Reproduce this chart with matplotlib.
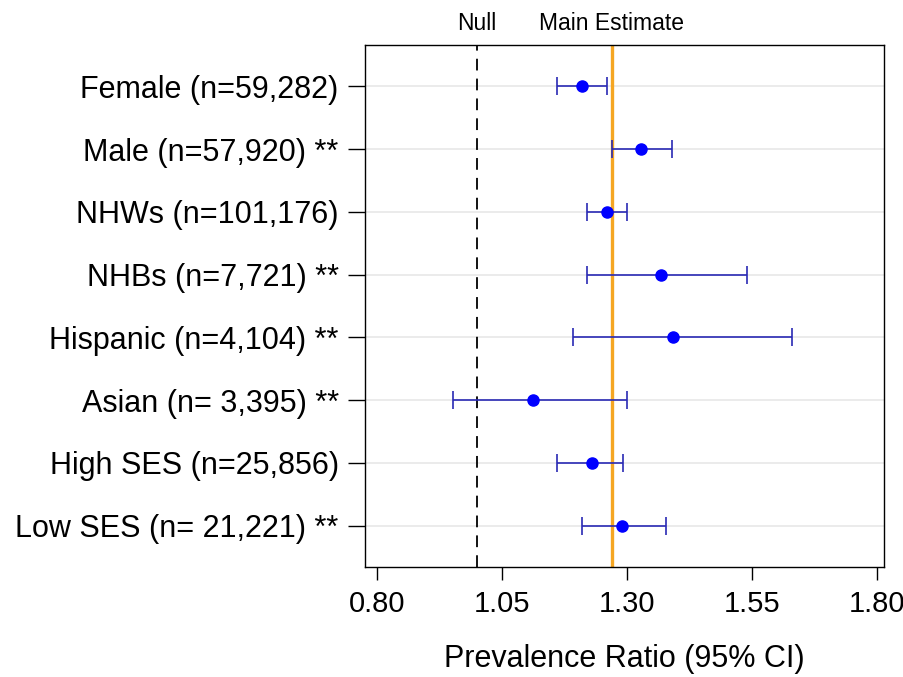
import matplotlib
matplotlib.use("Agg")
import matplotlib.pyplot as plt
from matplotlib import font_manager

categories = ["Female (n=59,282)", "Male (n=57,920) **", "NHWs (n=101,176)",
              "NHBs (n=7,721) **", "Hispanic (n=4,104) **", "Asian (n= 3,395) **",
              "High SES (n=25,856)", "Low SES (n= 21,221) **"]
estimates = [1.210, 1.328, 1.260, 1.368, 1.391, 1.111, 1.229, 1.290]
ci_low = [1.160, 1.269, 1.219, 1.219, 1.191, 0.951, 1.160, 1.210]
ci_high = [1.259, 1.390, 1.300, 1.540, 1.630, 1.300, 1.291, 1.378]
null_value = 1.00
main_estimate = 1.269
xticks = [0.80, 1.05, 1.30, 1.55, 1.80]
xtick_labels = ["0.80", "1.05", "1.30", "1.55", "1.80"]

names = {f.name for f in font_manager.fontManager.ttflist}
main_font = "Liberation Sans" if "Liberation Sans" in names else "DejaVu Sans"
plt.rcParams['font.family'] = [main_font, 'DejaVu Sans']

fig = plt.figure(figsize=(9.04, 6.77), dpi=100)
ax = fig.add_axes([0.4038, 0.1625, 0.5741, 0.771])

y = list(range(len(categories)))
for yi in y:
    ax.axhline(yi, color="#e8e8e8", lw=1.2, zorder=0)

ax.axvline(null_value, color="black", lw=1.3, ls=(0, (6.5, 4.5)), zorder=1)
ax.axvline(main_estimate, color="#f5a623", lw=2.4, zorder=1)

xerr = [[e - l for e, l in zip(estimates, ci_low)], [h - e for e, h in zip(estimates, ci_high)]]
ax.errorbar(estimates, y, xerr=xerr, fmt="none", ecolor="#2a2ab4", elinewidth=1.2,
            capsize=6.5, capthick=1.2, zorder=2)
ax.plot(estimates, y, "o", color="#0000ff", markersize=8, zorder=3)

ax.set_xlim(0.776, 1.814)
ax.set_ylim(len(categories) - 1 + 0.66, -0.66)
ax.set_yticks(y)
ax.set_yticklabels(categories, fontsize=22)
ax.set_xticks(xticks)
ax.set_xticklabels(xtick_labels, fontsize=21)
ax.tick_params(axis="y", length=12, width=1, pad=7)
ax.tick_params(axis="x", length=9.5, width=1, pad=7)
ax.set_xlabel("Prevalence Ratio (95% CI)", fontsize=22, labelpad=19)
for s in ax.spines.values():
    s.set_linewidth(1)

ax.text(null_value, 1.02, "Null", transform=ax.get_xaxis_transform(), ha="center",
        va="bottom", fontsize=16.5)
ax.text(main_estimate, 1.02, "Main Estimate", transform=ax.get_xaxis_transform(), ha="center",
        va="bottom", fontsize=16.5)

fig.savefig("out.png", dpi=100)
